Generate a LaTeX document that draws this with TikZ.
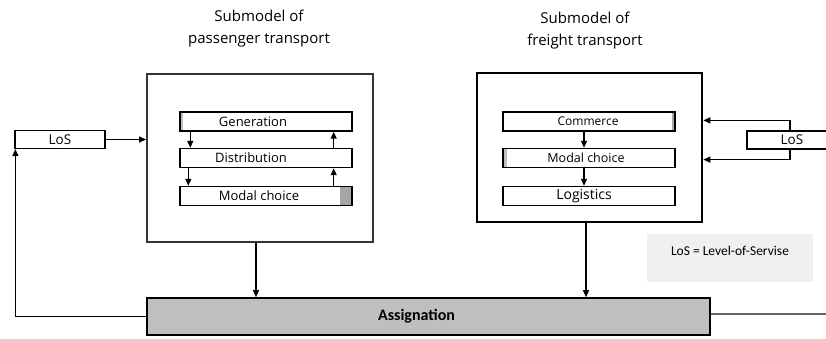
\documentclass[tikz,border=0pt]{standalone}
\usepackage{fontspec}
\setmainfont{Open Sans}
\newfontfamily\calib{Carlito}
\usetikzlibrary{arrows.meta}

\tikzset{
  arr/.style={line width=1.3pt, -{Triangle[length=7pt,width=6pt]}},
  inbox/.style={draw, line width=1.4pt, minimum width=172pt, minimum height=19pt, inner sep=0pt},
  losbox/.style={draw, line width=1.2pt, minimum width=90pt, minimum height=18pt, inner sep=0pt, font=\fontsize{13.5}{15}\selectfont},
  lbl/.style={font=\fontsize{13}{15}\selectfont, inner sep=0pt},
  title/.style={align=center, font=\fontsize{15}{22}\selectfont},
  rpatch/.style={path picture={\fill[black!35] ([xshift=-#1]path picture bounding box.north east) rectangle (path picture bounding box.south east);}},
  lpatch/.style={path picture={\fill[black!25] (path picture bounding box.north west) rectangle ([xshift=#1]path picture bounding box.south west);}}
}

\begin{document}
\begin{tikzpicture}[x=1pt,y=-1pt]
\useasboundingbox (0,0) rectangle (826,338);
\clip (0,0) rectangle (826,338);

% titles
\node[title] (ptitle) at (259,29) {Submodel of\\passenger transport};
\node[title] (ftitle) at (585,31) {Submodel of\\freight transport};

% outer boxes
\node[draw=black!80, line width=1.9pt, minimum width=226pt, minimum height=168pt] (pbox) at (260,158) {};
\node[draw, line width=2.6pt, minimum width=225pt, minimum height=149pt] (fbox) at (589.5,147.5) {};

% passenger submodel
\node[inbox, rpatch=6pt, lpatch=3pt] (gen) at (266,121.5) {};
\node[inbox] (dist) at (266,158) {};
\node[inbox, rpatch=12pt] (pmod) at (266,196) {};
\node[lbl] at ([xshift=-13pt]gen) {Generation};
\node[lbl] at ([xshift=-15pt]dist) {Distribution};
\node[lbl] at ([xshift=-7pt]pmod) {Modal choice};
\draw[arr] ([xshift=11pt]gen.south west) -- ([xshift=11pt]dist.north west);
\draw[arr] ([xshift=9pt]dist.south west) -- ([xshift=9pt]pmod.north west);
\draw[arr] ([xshift=-19pt]dist.north east) -- ([xshift=-19pt]gen.south east);
\draw[arr] ([xshift=-19pt]pmod.north east) -- ([xshift=-19pt]dist.south east);

% freight submodel
\node[inbox, rpatch=3pt] (com) at (589,121.5) {};
\node[inbox, rpatch=7pt, lpatch=4pt] (fmod) at (589,158) {};
\node[inbox] (log) at (589,196) {};
\node[lbl, font=\fontsize{12}{14}\selectfont] at ([xshift=-1pt]com) {Commerce};
\node[lbl, font=\fontsize{12.5}{14}\selectfont] at ([xshift=-3pt]fmod) {Modal choice};
\node[lbl, font=\fontsize{14}{16}\selectfont] at ([xshift=-5pt]log) {Logistics};
\draw[arr] ([xshift=-5pt]com.south) -- ([xshift=-5pt]fmod.north);
\draw[arr] ([xshift=-5pt]fmod.south) -- ([xshift=-5pt]log.north);

% assignation
\node[draw, fill=black!25, line width=1.6pt, minimum width=563pt, minimum height=37pt] (asg) at (428.5,316.5) {};
\node[font=\calib\bfseries\fontsize{16}{18}\selectfont, inner sep=0pt] (asgtxt) at ([xshift=-12pt]asg.center) {Assignation};
\draw[arr] ([xshift=-4pt]pbox.south) -- ([xshift=-4pt]pbox.south |- asg.north);
\draw[arr] ([xshift=-3.5pt]fbox.south) -- ([xshift=-3.5pt]fbox.south |- asg.north);
\coordinate (rend) at (830,314);
\draw[black!60, line width=1.8pt] (asg.east |- rend) -- (rend);

% level of service
\node[losbox] (losl) at (60,139.5) {LoS};
\node[losbox] (losr) at (792,140) {LoS};
\draw[arr] (losl.east) -- (pbox.west |- losl.east);
\draw[arr] (asg.west) -| ([xshift=1pt]losl.south west);
\draw[arr] ([xshift=-2pt]losr.north) -- ++(0,-10) coordinate (t1) -- (t1 -| fbox.east);
\draw[arr] ([xshift=-2pt]losr.south) -- ++(0,10) coordinate (t2) -- (t2 -| fbox.east);

% legend
\node[fill=black!6, minimum width=166pt, minimum height=48pt] (legend) at (730,258) {};
\node[font=\calib\fontsize{13.5}{15}\selectfont, inner sep=0pt] (legtxt) at ([yshift=7pt]legend.center) {LoS = Level-of-Servise};
\end{tikzpicture}
\end{document}
